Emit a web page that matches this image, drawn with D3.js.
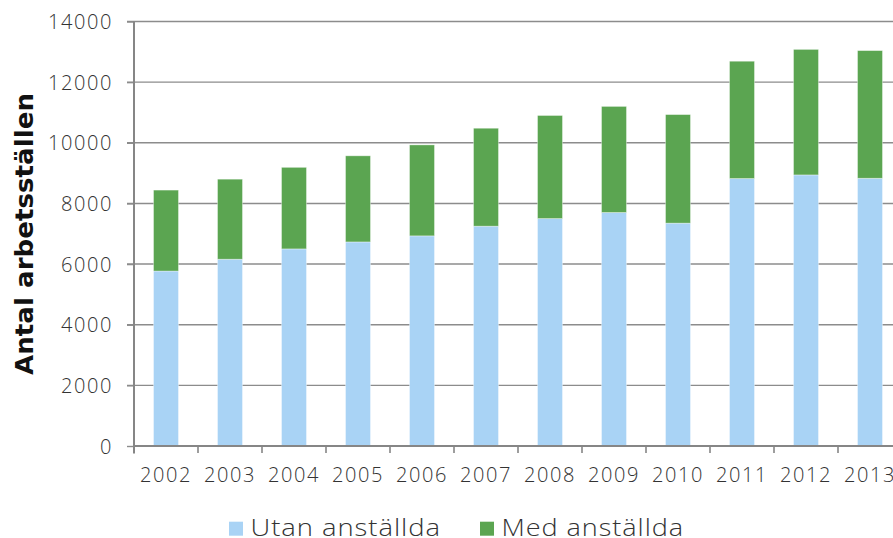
<!DOCTYPE html>
<html>
<head>
<meta charset="utf-8">
<script src="https://cdn.jsdelivr.net/npm/d3@7"></script>
<style>
  html, body { margin: 0; padding: 0; background: #fff; overflow: hidden; }
  svg { display: block; }
</style>
</head>
<body>
<svg id="chart" width="893" height="538"></svg>
<script>
// Workplaces per year, split by whether they have employees
const years = ["2002","2003","2004","2005","2006","2007","2008","2009","2010","2011","2012","2013"];
const utanAnstallda = [5770, 6160, 6500, 6730, 6930, 7250, 7500, 7700, 7350, 8820, 8940, 8830];
const medAnstallda  = [2670, 2640, 2690, 2840, 3000, 3230, 3400, 3500, 3580, 3870, 4140, 4210];
const seriesNames = ["Utan anställda", "Med anställda"];
const seriesColors = ["#a9d3f5", "#5ba551"];
const yTicks = [0, 2000, 4000, 6000, 8000, 10000, 12000, 14000];

const svg = d3.select("#chart");
const plotLeft = 134, plotBottom = 446, plotTop = 21.5, band = 64;

const x = d3.scaleBand()
  .domain(years)
  .range([plotLeft, plotLeft + band * years.length])
  .paddingInner(0.61)
  .paddingOuter(0.305);

const y = d3.scaleLinear().domain([0, 14000]).range([plotBottom, plotTop]);

const font = "'Open Sans', sans-serif";

// horizontal gridlines (they also form the short ticks left of the axis)
svg.append("g")
  .selectAll("line")
  .data(yTicks.slice(1))
  .join("line")
  .attr("x1", plotLeft - 7).attr("x2", 893)
  .attr("y1", d => y(d)).attr("y2", d => y(d))
  .attr("stroke", "#8c8c8c").attr("stroke-width", 1.4);

// stacked bars
const rows = years.map((yr, i) => ({ year: yr, utan: utanAnstallda[i], med: medAnstallda[i] }));
const stack = d3.stack().keys(["utan", "med"])(rows);

svg.append("g")
  .selectAll("g")
  .data(stack)
  .join("g")
  .attr("fill", (d, i) => seriesColors[i])
  .selectAll("rect")
  .data(d => d)
  .join("rect")
  .attr("x", d => x(d.data.year))
  .attr("width", x.bandwidth())
  .attr("y", d => y(d[1]))
  .attr("height", d => y(d[0]) - y(d[1]))
  .attr("stroke", "rgba(255,255,255,0.45)")
  .attr("stroke-width", 0.8);

// y axis
const yAxis = svg.append("g")
  .attr("transform", `translate(${plotLeft},0)`)
  .call(d3.axisLeft(y).tickValues(yTicks).tickSize(7).tickPadding(14).tickFormat(d3.format("d")));
yAxis.select(".domain").remove();
yAxis.selectAll(".tick line").attr("stroke", "#8c8c8c").attr("stroke-width", 1.4);
yAxis.selectAll("text")
  .attr("font-family", font).attr("font-weight", 300)
  .attr("font-size", 20).attr("letter-spacing", 1.6)
  .attr("fill", "#333").attr("dy", "0.36em");

svg.append("line")
  .attr("x1", plotLeft).attr("x2", plotLeft)
  .attr("y1", plotTop).attr("y2", plotBottom + 7.5)
  .attr("stroke", "#868686").attr("stroke-width", 2);

// x axis
const xAxis = svg.append("g")
  .attr("transform", `translate(0,${plotBottom})`)
  .call(d3.axisBottom(x).tickSize(0).tickPadding(0));
xAxis.select(".domain").remove();
xAxis.selectAll("text")
  .attr("font-family", font).attr("font-weight", 300)
  .attr("font-size", 20).attr("letter-spacing", 1.6)
  .attr("fill", "#333").attr("dy", 0).attr("y", 35.5);

svg.append("line")
  .attr("x1", plotLeft).attr("x2", 893)
  .attr("y1", plotBottom).attr("y2", plotBottom)
  .attr("stroke", "#868686").attr("stroke-width", 2);

// category boundary ticks under the axis
svg.append("g")
  .selectAll("line")
  .data(d3.range(years.length + 1))
  .join("line")
  .attr("x1", i => plotLeft + i * band).attr("x2", i => plotLeft + i * band)
  .attr("y1", plotBottom).attr("y2", plotBottom + 7)
  .attr("stroke", "#868686").attr("stroke-width", 1.6);

// y axis title
svg.append("text")
  .attr("transform", "translate(32.5,234) rotate(-90)")
  .attr("text-anchor", "middle")
  .attr("font-family", "'DejaVu Sans', sans-serif")
  .attr("font-weight", "bold")
  .attr("font-size", 25)
  .attr("textLength", 282)
  .attr("lengthAdjust", "spacingAndGlyphs")
  .attr("fill", "#111")
  .text("Antal arbetsställen");

// legend
const legendX = [229, 480];
const legendTextEnd = [441, 684];
const legend = svg.append("g");
seriesNames.forEach((name, i) => {
  legend.append("rect")
    .attr("x", legendX[i]).attr("y", 521.7)
    .attr("width", 14).attr("height", 14)
    .attr("fill", seriesColors[i]);
  const tx = legendX[i] + 21.5;
  legend.append("text")
    .attr("x", tx).attr("y", 536)
    .attr("font-family", font).attr("font-weight", 300)
    .attr("font-size", 23)
    .attr("letter-spacing", 0.8)
    .attr("textLength", legendTextEnd[i] - tx)
    .attr("lengthAdjust", "spacingAndGlyphs")
    .attr("fill", "#333")
    .text(name);
});
</script>
</body>
</html>
